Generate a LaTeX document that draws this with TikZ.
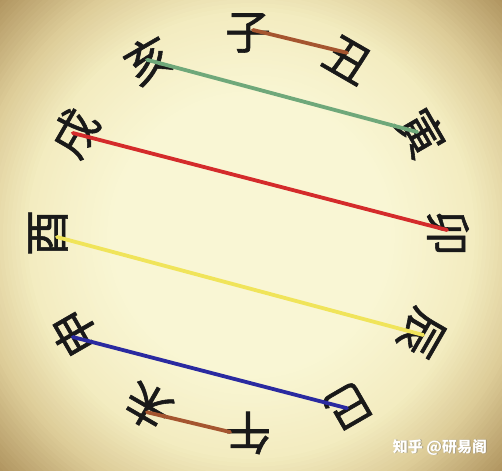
\documentclass[tikz,border=0pt]{standalone}
\usepackage{fontspec}
\newfontfamily\cjk{Noto Sans CJK SC}
\newfontfamily\cjkmed[FakeBold=1.2]{Noto Sans CJK SC}
\definecolor{bgA}{HTML}{F9F6D4}
\definecolor{bgB}{HTML}{F3ECC0}
\definecolor{bgC}{HTML}{DDCC98}
\definecolor{bgD}{HTML}{AD915C}
\definecolor{lbrown}{HTML}{A5552F}
\definecolor{lgreen}{HTML}{6FA87A}
\definecolor{lred}{HTML}{D42B2B}
\definecolor{lyellow}{HTML}{F0E45A}
\definecolor{lblue}{HTML}{2A2AA0}
\tikzset{
  ch/.style={inner sep=0pt, font=\cjkmed\fontsize{46}{46}\selectfont, text=black!90},
  link/.style={line width=3.8pt, line cap=round},
  wm/.style={inner sep=0pt, font=\cjk\bfseries\fontsize{15}{15}\selectfont}
}
\begin{document}
\begin{tikzpicture}[x=1pt,y=1pt]
\useasboundingbox (-248,-237) rectangle (254,233);
\begin{scope}
\clip (-248,-237) rectangle (254,233);
\coordinate (mid) at (3,-2);
\foreach \r in {350,346,...,282}{\pgfmathtruncatemacro\p{(\r-280)/70*100}\fill[bgD!\p!bgC] (mid) circle (\r pt);}
\foreach \r in {280,276,...,226}{\pgfmathtruncatemacro\p{(\r-224)/56*100}\fill[bgC!\p!bgB] (mid) circle (\r pt);}
\foreach \r in {224,220,...,142}{\pgfmathtruncatemacro\p{(\r-140)/84*100}\fill[bgB!\p!bgA] (mid) circle (\r pt);}
\fill[bgA] (mid) circle (140pt);
\end{scope}
\node[ch, rotate=0]    (zi)   at (90:200)  {子};
\node[ch, rotate=-30]  (chou) at (60:200)  {丑};
\node[ch, rotate=-60]  (yin)  at (30:200)  {寅};
\node[ch, rotate=-90]  (mao)  at (0:200)   {卯};
\node[ch, rotate=-120] (chen) at (-30:200) {辰};
\node[ch, rotate=-150] (si)   at (-60:200) {巳};
\node[ch, rotate=180]  (wu)   at (-90:200) {午};
\node[ch, rotate=150]  (wei)  at (-120:200){未};
\node[ch, rotate=120]  (shen) at (-150:200){申};
\node[ch, rotate=90]   (you)  at (180:200) {酉};
\node[ch, rotate=60]   (xu)   at (150:200) {戌};
\node[ch, rotate=30]   (hai)  at (120:200) {亥};
\draw[link, lbrown]  ([shift={(5,3)}]zi.center) -- ([shift={(-1,7)}]chou.center);
\draw[link, lgreen]  ([shift={(-1,0)}]hai.center) -- ([shift={(-4,1)}]yin.center);
\draw[link, lred]    ([shift={(-2,0)}]xu.center) -- ([shift={(-1,3)}]mao.center);
\draw[link, lyellow] ([shift={(9,-4)}]you.center) -- ([shift={(2,-2)}]chen.center);
\draw[link, lblue]   ([shift={(-2,-4)}]shen.center) -- ([shift={(-1,-2)}]si.center);
\draw[link, lbrown]  ([shift={(-1,-6)}]wei.center) -- ([shift={(-18,1)}]wu.center);
\node[wm, text=black!60, opacity=0.5] at (192.8,-214.8) {知乎 @研易阁};
\node[wm, text=white] (mark) at (192,-214) {知乎 @研易阁};
\end{tikzpicture}
\end{document}
